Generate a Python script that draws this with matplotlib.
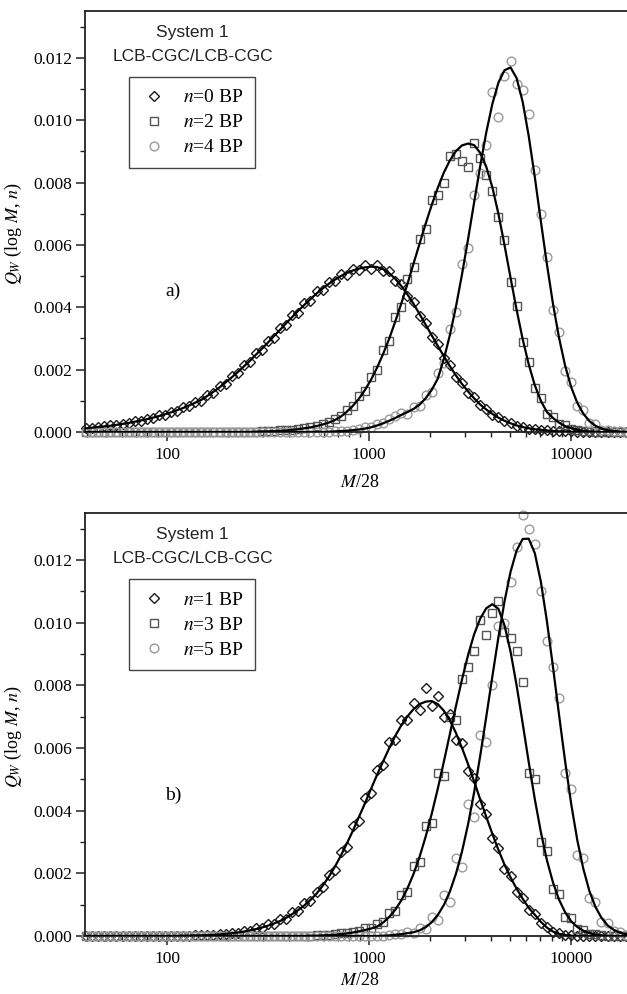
import matplotlib
matplotlib.use('Agg')
import matplotlib.pyplot as plt
import numpy as np
from matplotlib.ticker import FixedLocator, NullFormatter, LogLocator

plt.rcParams['font.family'] = ['Liberation Serif', 'DejaVu Serif']
plt.rcParams['mathtext.fontset'] = 'stix'

# ---------------- data (log10 of M/28) ----------------
logM = [1.60, 1.63, 1.66, 1.69, 1.72, 1.75, 1.78, 1.81, 1.84, 1.87,
        1.90, 1.93, 1.96, 1.99, 2.02, 2.05, 2.08, 2.11, 2.14, 2.17,
        2.20, 2.23, 2.26, 2.29, 2.32, 2.35, 2.38, 2.41, 2.44, 2.47,
        2.50, 2.53, 2.56, 2.59, 2.62, 2.65, 2.68, 2.71, 2.74, 2.77,
        2.80, 2.83, 2.86, 2.89, 2.92, 2.95, 2.98, 3.01, 3.04, 3.07,
        3.10, 3.13, 3.16, 3.19, 3.22, 3.25, 3.28, 3.31, 3.34, 3.37,
        3.40, 3.43, 3.46, 3.49, 3.52, 3.55, 3.58, 3.61, 3.64, 3.67,
        3.70, 3.73, 3.76, 3.79, 3.82, 3.85, 3.88, 3.91, 3.94, 3.97,
        4.00, 4.03, 4.06, 4.09, 4.12, 4.15, 4.18, 4.21, 4.24, 4.27,
        4.30]

# ---- panel a) fitted curves ----
fit_n0 = [0.00012, 0.00014, 0.00016, 0.00018, 0.00020, 0.00023, 0.00026, 0.00029, 0.00033, 0.00037,
          0.00041, 0.00046, 0.00051, 0.00057, 0.00063, 0.00070, 0.00077, 0.00085, 0.00094, 0.00103,
          0.00116, 0.00129, 0.00143, 0.00159, 0.00175, 0.00192, 0.00210, 0.00228, 0.00248, 0.00267,
          0.00287, 0.00308, 0.00328, 0.00349, 0.00369, 0.00389, 0.00408, 0.00426, 0.00444, 0.00460,
          0.00475, 0.00488, 0.00500, 0.00510, 0.00518, 0.00524, 0.00528, 0.00530, 0.00529, 0.00522,
          0.00509, 0.00491, 0.00468, 0.00441, 0.00411, 0.00378, 0.00344, 0.00310, 0.00276, 0.00243,
          0.00211, 0.00181, 0.00154, 0.00130, 0.00108, 0.00088, 0.00072, 0.00058, 0.00046, 0.00036,
          0.00028, 0.00021, 0.00016, 0.00012, 0.00009, 0.00007, 0.00005, 0.00003, 0.00002, 0.00002,
          0.00001, 0, 0, 0, 0, 0, 0, 0, 0, 0,
          0]
fit_n2 = [0, 0, 0, 0, 0, 0, 0, 0, 0, 0,
          0, 0, 0, 0, 0, 0, 0, 0, 0, 0,
          0, 0, 0, 0, 0, 0, 0, 0, 0.00001, 0.00002,
          0.00002, 0.00003, 0.00004, 0.00005, 0.00007, 0.00009, 0.00012, 0.00015, 0.00019, 0.00024,
          0.00030, 0.00038, 0.00049, 0.00065, 0.00084, 0.00107, 0.00135, 0.00168, 0.00207, 0.00251,
          0.00300, 0.00355, 0.00413, 0.00475, 0.00540, 0.00604, 0.00668, 0.00728, 0.00783, 0.00832,
          0.00871, 0.00901, 0.00919, 0.00925, 0.00920, 0.00895, 0.00850, 0.00785, 0.00700, 0.00600,
          0.00495, 0.00392, 0.00298, 0.00217, 0.00150, 0.00100, 0.00064, 0.00045, 0.00030, 0.00019,
          0.00012, 0.00007, 0.00004, 0.00002, 0.00001, 0, 0, 0, 0, 0,
          0]
fit_n4 = [0, 0, 0, 0, 0, 0, 0, 0, 0, 0,
          0, 0, 0, 0, 0, 0, 0, 0, 0, 0,
          0, 0, 0, 0, 0, 0, 0, 0, 0, 0,
          0, 0, 0, 0, 0, 0, 0, 0, 0, 0,
          0.00001, 0.00002, 0.00003, 0.00004, 0.00006, 0.00008, 0.00011, 0.00015, 0.00021, 0.00028,
          0.00036, 0.00045, 0.00055, 0.00064, 0.00074, 0.00088, 0.00108, 0.00135, 0.00171, 0.00234,
          0.00311, 0.00402, 0.00506, 0.00619, 0.00737, 0.00853, 0.00961, 0.01052, 0.01120, 0.01160,
          0.01169, 0.01135, 0.01059, 0.00949, 0.00818, 0.00676, 0.00538, 0.00411, 0.00302, 0.00213,
          0.00144, 0.00094, 0.00059, 0.00035, 0.00020, 0.00011, 0.00006, 0.00003, 0.00001, 0,
          0]

# ---- panel a) simulation points ----
pts_n0 = [0.00013, 0.00014, 0.00017, 0.00018, 0.00021, 0.00022, 0.00027, 0.00028, 0.00034, 0.00036,
          0.00043, 0.00045, 0.00053, 0.00056, 0.00065, 0.00068, 0.00080, 0.00083, 0.00097, 0.00101,
          0.00119, 0.00126, 0.00147, 0.00155, 0.00180, 0.00188, 0.00216, 0.00223, 0.00254, 0.00262,
          0.00293, 0.00303, 0.00335, 0.00343, 0.00376, 0.00383, 0.00415, 0.00420, 0.00452, 0.00455,
          0.00482, 0.00483, 0.00507, 0.00505, 0.00524, 0.00520, 0.00535, 0.00524, 0.00536, 0.00517,
          0.00515, 0.00484, 0.00474, 0.00435, 0.00416, 0.00372, 0.00349, 0.00305, 0.00281, 0.00238,
          0.00216, 0.00177, 0.00158, 0.00126, 0.00112, 0.00085, 0.00075, 0.00055, 0.00048, 0.00034,
          0.00030, 0.00020, 0.00017, 0.00011, 0.00010, 0.00006, 0.00006, 0.00003, 0.00003, 0.00002,
          0.00002, 0.00001, 0.00001, 0, 0, 0, 0, 0, 0, 0,
          0]
pts_n2 = [0, 0, 0, 0, 0, 0, 0, 0, 0, 0,
          0, 0, 0, 0, 0, 0, 0, 0, 0, 0,
          0, 0, 0, 0, 0, 0, 0, 0, 0.00001, 0.00002,
          0.00003, 0.00003, 0.00005, 0.00005, 0.00008, 0.00010, 0.00013, 0.00017, 0.00020, 0.00027,
          0.00031, 0.00042, 0.00050, 0.00070, 0.00082, 0.00114, 0.00131, 0.00176, 0.00200, 0.00262,
          0.00291, 0.00368, 0.00402, 0.00490, 0.00528, 0.00618, 0.00652, 0.00745, 0.00760, 0.00800,
          0.00885, 0.00890, 0.00870, 0.00850, 0.00928, 0.00880, 0.00823, 0.00772, 0.00690, 0.00615,
          0.00480, 0.00405, 0.00288, 0.00225, 0.00140, 0.00108, 0.00058, 0.00049, 0.00026, 0.00021,
          0.00010, 0.00008, 0.00003, 0.00003, 0.00001, 0.00001, 0, 0, 0, 0,
          0]
pts_n4 = [0, 0, 0, 0, 0, 0, 0, 0, 0, 0,
          0, 0, 0, 0, 0, 0, 0, 0, 0, 0,
          0, 0, 0, 0, 0, 0, 0, 0, 0, 0,
          0, 0, 0, 0, 0, 0, 0, 0, 0, 0,
          0.00001, 0.00002, 0.00004, 0.00004, 0.00008, 0.00009, 0.00015, 0.00016, 0.00025, 0.00030,
          0.00042, 0.00050, 0.00062, 0.00058, 0.00080, 0.00082, 0.00120, 0.00128, 0.00190, 0.00220,
          0.00330, 0.00385, 0.00540, 0.00590, 0.00760, 0.00830, 0.00920, 0.01090, 0.01010, 0.01142,
          0.01190, 0.01116, 0.01097, 0.01020, 0.00840, 0.00700, 0.00560, 0.00390, 0.00320, 0.00195,
          0.00160, 0.00082, 0.00070, 0.00028, 0.00026, 0.00007, 0.00008, 0.00002, 0.00002, 0,
          0]

# ---- panel b) fitted curves ----
fit_n1 = [0, 0, 0, 0, 0, 0, 0, 0, 0, 0,
          0, 0, 0, 0, 0, 0, 0.00001, 0.00001, 0.00002, 0.00002,
          0.00003, 0.00004, 0.00005, 0.00007, 0.00009, 0.00011, 0.00014, 0.00018, 0.00022, 0.00027,
          0.00033, 0.00040, 0.00048, 0.00058, 0.00070, 0.00083, 0.00098, 0.00115, 0.00135, 0.00160,
          0.00188, 0.00220, 0.00256, 0.00295, 0.00336, 0.00380, 0.00424, 0.00470, 0.00515, 0.00558,
          0.00600, 0.00639, 0.00673, 0.00701, 0.00724, 0.00740, 0.00748, 0.00750, 0.00740, 0.00719,
          0.00688, 0.00648, 0.00600, 0.00548, 0.00493, 0.00436, 0.00380, 0.00326, 0.00275, 0.00228,
          0.00187, 0.00151, 0.00119, 0.00090, 0.00068, 0.00045, 0.00027, 0.00014, 0.00007, 0.00003,
          0.00001, 0, 0, 0, 0, 0, 0, 0, 0, 0,
          0]
fit_n3 = [0, 0, 0, 0, 0, 0, 0, 0, 0, 0,
          0, 0, 0, 0, 0, 0, 0, 0, 0, 0,
          0, 0, 0, 0, 0, 0, 0, 0, 0, 0,
          0, 0, 0, 0, 0, 0, 0, 0.00001, 0.00001, 0.00002,
          0.00003, 0.00004, 0.00006, 0.00008, 0.00011, 0.00015, 0.00019, 0.00024, 0.00030, 0.00043,
          0.00061, 0.00084, 0.00114, 0.00152, 0.00198, 0.00253, 0.00317, 0.00390, 0.00470, 0.00556,
          0.00645, 0.00734, 0.00819, 0.00897, 0.00963, 0.01013, 0.01046, 0.01059, 0.01044, 0.00992,
          0.00908, 0.00800, 0.00679, 0.00555, 0.00437, 0.00332, 0.00242, 0.00171, 0.00116, 0.00076,
          0.00047, 0.00029, 0.00017, 0.00009, 0.00005, 0.00002, 0.00001, 0, 0, 0,
          0]
fit_n5 = [0, 0, 0, 0, 0, 0, 0, 0, 0, 0,
          0, 0, 0, 0, 0, 0, 0, 0, 0, 0,
          0, 0, 0, 0, 0, 0, 0, 0, 0, 0,
          0, 0, 0, 0, 0, 0, 0, 0, 0, 0,
          0, 0, 0, 0, 0, 0, 0, 0, 0, 0.00001,
          0.00002, 0.00004, 0.00006, 0.00009, 0.00012, 0.00018, 0.00028, 0.00044, 0.00067, 0.00099,
          0.00142, 0.00199, 0.00270, 0.00357, 0.00459, 0.00575, 0.00700, 0.00828, 0.00953, 0.01067,
          0.01162, 0.01230, 0.01267, 0.01268, 0.01222, 0.01131, 0.01005, 0.00859, 0.00706, 0.00558,
          0.00422, 0.00307, 0.00215, 0.00144, 0.00093, 0.00058, 0.00034, 0.00020, 0.00011, 0.00006,
          0.00003]

# ---- panel b) simulation points ----
pts_n1 = [0, 0, 0, 0, 0, 0, 0, 0, 0, 0,
          0, 0, 0, 0, 0, 0, 0.00001, 0.00001, 0.00002, 0.00003,
          0.00003, 0.00004, 0.00006, 0.00007, 0.00010, 0.00011, 0.00016, 0.00017, 0.00025, 0.00026,
          0.00037, 0.00039, 0.00053, 0.00055, 0.00076, 0.00080, 0.00104, 0.00112, 0.00142, 0.00155,
          0.00196, 0.00212, 0.00268, 0.00285, 0.00350, 0.00368, 0.00440, 0.00455, 0.00530, 0.00545,
          0.00618, 0.00625, 0.00690, 0.00688, 0.00745, 0.00722, 0.00790, 0.00735, 0.00765, 0.00700,
          0.00710, 0.00625, 0.00615, 0.00528, 0.00505, 0.00420, 0.00388, 0.00312, 0.00280, 0.00215,
          0.00190, 0.00140, 0.00122, 0.00082, 0.00070, 0.00040, 0.00029, 0.00012, 0.00008, 0.00003,
          0.00002, 0, 0, 0, 0, 0, 0, 0, 0, 0,
          0]
pts_n3 = [0, 0, 0, 0, 0, 0, 0, 0, 0, 0,
          0, 0, 0, 0, 0, 0, 0, 0, 0, 0,
          0, 0, 0, 0, 0, 0, 0, 0, 0, 0,
          0, 0, 0, 0, 0, 0, 0, 0.00001, 0.00002, 0.00002,
          0.00004, 0.00005, 0.00008, 0.00009, 0.00014, 0.00016, 0.00024, 0.00026, 0.00038, 0.00045,
          0.00072, 0.00080, 0.00130, 0.00140, 0.00225, 0.00235, 0.00350, 0.00360, 0.00520, 0.00510,
          0.00700, 0.00690, 0.00820, 0.00860, 0.00910, 0.01010, 0.00960, 0.01030, 0.01069, 0.00970,
          0.00950, 0.00910, 0.00810, 0.00520, 0.00500, 0.00300, 0.00270, 0.00150, 0.00135, 0.00062,
          0.00058, 0.00022, 0.00020, 0.00007, 0.00006, 0.00002, 0.00001, 0, 0, 0,
          0]
pts_n5 = [0, 0, 0, 0, 0, 0, 0, 0, 0, 0,
          0, 0, 0, 0, 0, 0, 0, 0, 0, 0,
          0, 0, 0, 0, 0, 0, 0, 0, 0, 0,
          0, 0, 0, 0, 0, 0, 0, 0, 0, 0,
          0, 0, 0, 0, 0, 0, 0, 0, 0, 0.00001,
          0.00002, 0.00005, 0.00005, 0.00012, 0.00010, 0.00025, 0.00022, 0.00060, 0.00050, 0.00130,
          0.00110, 0.00250, 0.00220, 0.00420, 0.00380, 0.00640, 0.00620, 0.00800, 0.00990, 0.01000,
          0.01130, 0.01240, 0.01343, 0.01300, 0.01250, 0.01100, 0.00940, 0.00860, 0.00760, 0.00520,
          0.00470, 0.00260, 0.00250, 0.00120, 0.00110, 0.00045, 0.00040, 0.00015, 0.00012, 0.00004,
          0.00003]

labels_a = ['$n$=0 BP', '$n$=2 BP', '$n$=4 BP']
labels_b = ['$n$=1 BP', '$n$=3 BP', '$n$=5 BP']
xticks = [100, 1000, 10000]
xticklabels = ['100', '1000', '10000']
yticks = [0.000, 0.002, 0.004, 0.006, 0.008, 0.010, 0.012]
yticklabels = ['0.000', '0.002', '0.004', '0.006', '0.008', '0.010', '0.012']

M = np.power(10.0, np.array(logM))

W, H = 627, 994
fig = plt.figure(figsize=(W / 100, H / 100), dpi=100)
ax_a = fig.add_axes([85 / W, (H - 432) / H, 547 / W, 421 / H])
ax_b = fig.add_axes([85 / W, (H - 936) / H, 547 / W, 423 / H])

styles = [dict(marker='D', ms=5.0, mec='#1a1a1a'),
          dict(marker='s', ms=5.5, mec='#555555'),
          dict(marker='o', ms=6.3, mec='#9a9a9a')]


def draw(ax, pts, fits, labels, tag, xlab_y):
    handles = []
    for p, st, lab in zip(pts, styles, labels):
        h, = ax.plot(M, p, linestyle='none', mfc='none', mew=1.0,
                     clip_on=False, zorder=2, label=lab, **st)
        handles.append(h)
    for f in fits:
        ax.plot(M, f, color='black', lw=1.6, zorder=3)
    ax.set_xscale('log')
    ax.set_xlim(39.3, 20000)
    ax.set_ylim(0, 0.0135)
    ax.xaxis.set_major_locator(FixedLocator(xticks))
    ax.set_xticklabels(xticklabels)
    ax.xaxis.set_minor_locator(LogLocator(base=10, subs=[2, 3, 4, 5, 6, 7, 8, 9]))
    ax.xaxis.set_minor_formatter(NullFormatter())
    ax.set_yticks(yticks)
    ax.set_yticklabels(yticklabels)
    ax.yaxis.set_minor_locator(FixedLocator([0.001, 0.003, 0.005, 0.007, 0.009, 0.011, 0.013]))
    ax.tick_params(which='major', direction='out', length=6.5, width=1.1,
                   labelsize=12.5, pad=2.5, color='#222222')
    ax.tick_params(which='minor', direction='out', length=3.5, width=1.0, color='#222222')
    ax.tick_params(axis='x', which='major', pad=4)
    for s in ['left', 'top', 'bottom']:
        ax.spines[s].set_linewidth(1.3)
        ax.spines[s].set_color('#222222')
    ax.spines['right'].set_visible(False)
    ax.set_xlabel('$M$/28', fontsize=13)
    ax.xaxis.set_label_coords(0.503, xlab_y)
    ax.set_ylabel('$Q_W$ (log $M$, $n$)', fontsize=13)
    ax.yaxis.set_label_coords(-0.112, 0.47)
    ax.text(0.197, 0.950, 'System 1', transform=ax.transAxes, ha='center', va='center',
            fontsize=12.5, family='Liberation Sans', color='#222222')
    ax.text(0.197, 0.893, 'LCB-CGC/LCB-CGC', transform=ax.transAxes, ha='center', va='center',
            fontsize=12.5, family='Liberation Sans', color='#222222')
    ax.text(0.161, 0.333, tag, transform=ax.transAxes, ha='center', va='center', fontsize=14)
    leg = ax.legend(handles=handles, loc='upper left', bbox_to_anchor=(0.080, 0.843),
                    borderaxespad=0, fontsize=14, frameon=True, fancybox=False,
                    framealpha=1, edgecolor='#444444', numpoints=1, handlelength=1.4,
                    handletextpad=0.8, labelspacing=0.38, borderpad=0.6)
    leg.get_frame().set_linewidth(1.0)


draw(ax_a, [pts_n0, pts_n2, pts_n4], [fit_n0, fit_n2, fit_n4], labels_a, 'a)', -0.100)
draw(ax_b, [pts_n1, pts_n3, pts_n5], [fit_n1, fit_n3, fit_n5], labels_b, 'b)', -0.085)

fig.savefig('out.png', dpi=100)
